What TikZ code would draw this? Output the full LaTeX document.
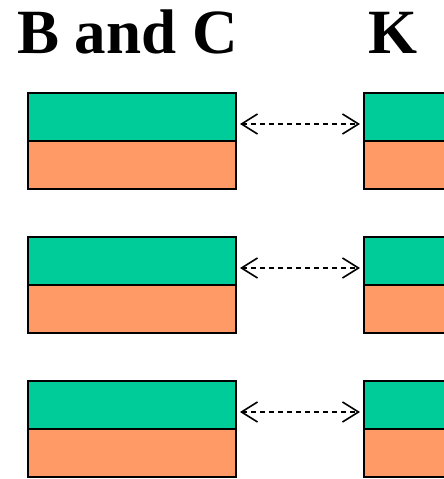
\documentclass[tikz,border=0pt]{standalone}
\usepackage{fontspec}
\setmainfont{Liberation Serif}
\usetikzlibrary{arrows.meta}
\definecolor{topgreen}{RGB}{0,204,153}
\definecolor{botorange}{RGB}{255,153,102}
\begin{document}
\begin{tikzpicture}[x=1pt,y=-1pt,
  half/.style={draw=black,line width=1.5pt,minimum width=208pt,minimum height=48pt,inner sep=0pt,outer sep=0pt,anchor=north west},
  tophalf/.style={half,fill=topgreen},
  bothalf/.style={half,fill=botorange},
  link/.style={dashed,dash pattern=on 5pt off 4pt,line width=1.5pt,{Straight Barb[length=16pt,width=20pt,line width=1.6pt]}-{Straight Barb[length=16pt,width=20pt,line width=1.6pt]}},
  title/.style={font=\fontsize{63}{70}\selectfont\bfseries,anchor=base,inner sep=0pt}]
\useasboundingbox (0,0) rectangle (444,479);
\clip (0,0) rectangle (444,479);
\node[title] (tbc) at (127.5,53) {B and C};
\node[title] (tk) at (393,53) {K};
\foreach \i/\y in {1/93,2/237,3/381}{
  \node[tophalf] (lt\i) at (28,\y) {};
  \node[bothalf] (lb\i) at (28,\y+48) {};
  \node[tophalf] (rt\i) at (364,\y) {};
  \node[bothalf] (rb\i) at (364,\y+48) {};
  \coordinate (la\i) at ([xshift=4pt,yshift=-7pt]lt\i.east);
  \coordinate (ra\i) at ([xshift=-4pt,yshift=-7pt]rt\i.west);
  \draw[link] (la\i) -- (ra\i);
}
\end{tikzpicture}
\end{document}
